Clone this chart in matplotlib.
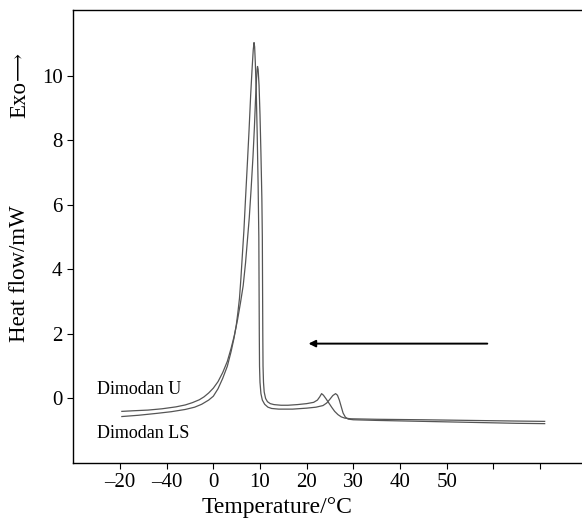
import matplotlib
matplotlib.use("Agg")
import matplotlib.pyplot as plt

# Dimodan U (upper at low temperature, lower/second main peak)
u_T = [-19.6, -17, -14, -11, -8, -6, -4.5, -3, -2, -1, 0, 1, 2, 3, 3.8, 4.5, 5.2, 5.8, 6.4, 6.9,
       7.3, 7.7, 8.1, 8.5, 8.8, 9.05, 9.25, 9.38, 9.47, 9.6, 9.8, 10.0, 10.2, 10.4, 10.5, 10.55,
       10.6, 10.65, 10.75, 10.9, 11.2, 11.6, 12.2, 13, 14.5, 16, 18, 20, 21.5, 22.3, 22.8, 23.2,
       23.6, 24.2, 24.8, 25.4, 26.0, 26.7, 27.4, 28.2, 29.5, 35, 45, 55, 65, 71]
u_H = [-0.40, -0.38, -0.36, -0.32, -0.26, -0.20, -0.13, -0.04, 0.05, 0.17, 0.32, 0.52, 0.80, 1.15, 1.55, 1.95, 2.45, 2.95, 3.5, 4.2,
       4.9, 5.6, 6.5, 7.5, 8.4, 9.3, 9.9, 10.2, 10.29, 10.2, 9.7, 8.8, 7.6, 6.2, 5.0, 3.5,
       2.0, 1.0, 0.5, 0.2, 0.0, -0.1, -0.16, -0.19, -0.21, -0.21, -0.19, -0.16, -0.12, -0.05, 0.05, 0.15,
       0.10, -0.02, -0.15, -0.28, -0.40, -0.50, -0.57, -0.61, -0.63, -0.645, -0.66, -0.68, -0.70, -0.71]

# Dimodan LS
ls_T = [-19.6, -16, -12, -9, -6, -4, -2.5, -1, 0, 1, 2, 3, 3.8, 4.4, 4.9, 5.25, 5.6, 5.9, 6.2, 6.55,
        6.9, 7.3, 7.65, 8.0, 8.3, 8.55, 8.72, 8.85, 9.0, 9.2, 9.4, 9.6, 9.75, 9.8, 9.85, 9.9,
        10.0, 10.2, 10.5, 11.0, 11.7, 12.5, 14, 17, 20, 22, 23.5, 24.3, 25.0, 25.6, 26.2, 26.6,
        27.0, 27.4, 27.8, 28.3, 28.9, 30, 35, 45, 55, 65, 71]
ls_H = [-0.56, -0.52, -0.46, -0.41, -0.34, -0.27, -0.18, -0.05, 0.07, 0.30, 0.62, 1.0, 1.45, 1.85, 2.25, 2.65, 3.1, 3.7, 4.4, 5.2,
        6.2, 7.3, 8.3, 9.4, 10.2, 10.8, 11.03, 10.9, 10.4, 9.5, 8.2, 6.6, 5.0, 3.5, 2.0, 1.0,
        0.5, 0.15, -0.05, -0.18, -0.27, -0.31, -0.33, -0.33, -0.30, -0.27, -0.22, -0.14, -0.02, 0.09, 0.15, 0.10,
        -0.05, -0.25, -0.45, -0.58, -0.64, -0.66, -0.68, -0.71, -0.74, -0.77, -0.78]

x_ticks = [-20, -10, 0, 10, 20, 30, 40, 50, 60, 70]
x_tick_labels = ["\u201320", "\u201340", "0", "10", "20", "30", "40", "50", "", ""]
y_ticks = [0, 2, 4, 6, 8, 10]

serif = ["Liberation Serif", "DejaVu Serif"]
plt.rcParams["font.family"] = serif

fig = plt.figure(figsize=(5.82, 5.21), dpi=100)
ax = fig.add_axes([73/582, 1-463/521, 1-73/582, (463-10)/521])

ax.plot(u_T, u_H, color="#555555", lw=0.9)
ax.plot(ls_T, ls_H, color="#555555", lw=0.9)

ax.set_xlim(-30.07, 79)
ax.set_ylim(-2.0, 12.04)
ax.set_xticks(x_ticks)
ax.set_xticklabels(x_tick_labels)
ax.set_yticks(y_ticks)
ax.tick_params(direction="out", length=4, width=0.8, labelsize=15)
ax.spines["right"].set_visible(False)
for s in ["left", "bottom", "top"]:
    ax.spines[s].set_linewidth(1.0)

ax.set_xlabel("Temperature/\u00b0C", fontsize=17, labelpad=2)
ax.xaxis.set_label_coords(0.40, -0.075)

fig.text(20/582, 1-274/521, "Heat flow/mW", rotation=90, fontsize=16.5, ha="center", va="center")
fig.text(20/582, 1-100/521, "Exo", rotation=90, fontsize=16.5, ha="center", va="center")
fig.text(19/582, 1-66/521, "\u27f6", rotation=90, fontsize=14, ha="center", va="center", family=serif)

ax.text(-25.0, 0.28, "Dimodan U", fontsize=13, ha="left", va="center")
ax.text(-25.0, -1.08, "Dimodan LS", fontsize=13, ha="left", va="center")

ax.annotate("", xy=(19.8, 1.70), xytext=(59.3, 1.70),
            arrowprops=dict(arrowstyle="-|>", color="black", lw=1.4, mutation_scale=10))

fig.savefig("out.png", dpi=100)
